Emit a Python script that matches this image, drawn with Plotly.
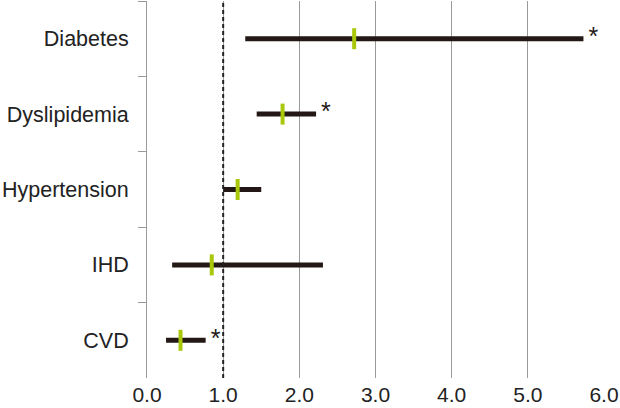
import plotly.graph_objects as go

categories = ["Diabetes", "Dyslipidemia", "Hypertension", "IHD", "CVD"]
estimate = [2.72, 1.78, 1.19, 0.85, 0.44]
lower = [1.29, 1.44, 1.00, 0.33, 0.25]
upper = [5.73, 2.22, 1.50, 2.31, 0.77]
significant = [True, True, False, False, True]
x_ticks = [0, 1, 2, 3, 4, 5, 6]
x_tick_labels = ["0.0", "1.0", "2.0", "3.0", "4.0", "5.0", "6.0"]

FONT = "Liberation Sans, Arial, Helvetica, sans-serif"
BAR = "#231815"
GREEN = "#a9c80c"

fig = go.Figure()

# confidence interval bars
for cat, lo, hi in zip(categories, lower, upper):
    fig.add_trace(go.Scatter(
        x=[lo, hi], y=[cat, cat], mode="lines",
        line=dict(color=BAR, width=5), hoverinfo="skip", showlegend=False,
    ))

# point estimates
fig.add_trace(go.Scatter(
    x=estimate, y=categories, mode="markers",
    marker=dict(symbol="line-ns", size=15, line=dict(color=GREEN, width=4)),
    showlegend=False,
))

# significance asterisks
sig_x = [hi for hi, s in zip(upper, significant) if s]
sig_y = [c for c, s in zip(categories, significant) if s]
fig.add_trace(go.Scatter(
    x=sig_x, y=sig_y, mode="text", text=["\u2009*"] * len(sig_x),
    textposition="middle right",
    textfont=dict(family=FONT, size=25, color=BAR),
    hoverinfo="skip", showlegend=False,
))

fig.add_vline(x=1, line=dict(color="#222222", width=2, dash="4px,3px"), layer="above")

fig.update_layout(
    width=620, height=408,
    margin=dict(l=147, r=16, t=1, b=30),
    paper_bgcolor="white", plot_bgcolor="white",
    font=dict(family=FONT, size=21.5, color="#222222"),
)
fig.update_xaxes(
    range=[0, 6], tickvals=x_ticks, ticktext=x_tick_labels,
    showgrid=True, gridcolor="#9a9a9a", gridwidth=1,
    zeroline=False, showline=False, ticks="",
    tickfont=dict(size=21, family=FONT, color="#222222"),
    ticklabelstandoff=2, automargin=False,
)
fig.update_yaxes(
    type="category", categoryorder="array", categoryarray=categories,
    range=[4.5, -0.5], showgrid=False, zeroline=False,
    showline=True, linecolor="#9a9a9a", linewidth=1,
    ticks="outside", tickson="boundaries", ticklen=8, tickcolor="#9a9a9a",
    tickfont=dict(size=21.5, family=FONT, color="#222222"),
    ticklabelstandoff=13, automargin=False,
)

fig.write_html(
    "out.html",
    config={"displayModeBar": False},
    post_script="document.body.style.margin='0';document.body.style.overflow='hidden';",
)
